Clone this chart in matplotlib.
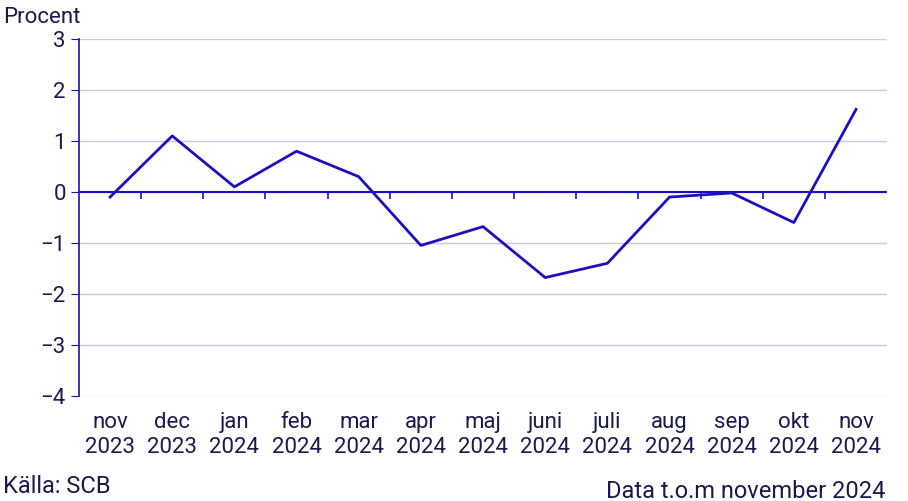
import matplotlib.pyplot as plt

months = ["nov\n2023", "dec\n2023", "jan\n2024", "feb\n2024", "mar\n2024", "apr\n2024",
          "maj\n2024", "juni\n2024", "juli\n2024", "aug\n2024", "sep\n2024", "okt\n2024", "nov\n2024"]
values = [-0.1, 1.1, 0.1, 0.8, 0.3, -1.05, -0.68, -1.68, -1.4, -0.1, -0.02, -0.6, 1.62]

line_color = "#1e0fbe"
text_color = "#1a1a4e"
grid_color = "#c9c6ea"

plt.rcParams["font.family"] = ["Roboto", "DejaVu Sans"]

fig = plt.figure(figsize=(9.08, 5.01), dpi=100)
ax = fig.add_axes([0.087, 0.21, 0.89, 0.712])

x = list(range(len(values)))
ax.plot(x, values, color=line_color, linewidth=2)

ax.set_xlim(-0.5, len(values) - 0.5)
ax.set_ylim(-4, 3)
ax.set_yticks(range(-4, 4))
ax.grid(axis="y", color=grid_color, linewidth=1)
ax.set_axisbelow(True)

ax.axhline(0, color=line_color, linewidth=1.5)
ax.vlines([i + 0.5 for i in x[:-1]], -0.14, 0, color=line_color, linewidth=1.2)

ax.set_xticks(x)
ax.set_xticklabels(months, linespacing=1.25)
ax.tick_params(axis="x", length=0, pad=12, labelsize=16, colors=text_color)
ax.tick_params(axis="y", length=6, labelsize=16, colors=text_color)
ax.tick_params(axis="y", color=line_color)

for s in ["top", "right", "bottom"]:
    ax.spines[s].set_visible(False)
ax.spines["left"].set_color(line_color)
ax.spines["left"].set_linewidth(1.2)

fig.text(0.003, 0.955, "Procent", fontsize=16, color=text_color)
fig.text(0.003, 0.015, "Källa: SCB", fontsize=17, color=text_color)
fig.text(0.975, 0.005, "Data t.o.m november 2024", fontsize=17, color=text_color, ha="right")

fig.savefig("out.png", dpi=100)
